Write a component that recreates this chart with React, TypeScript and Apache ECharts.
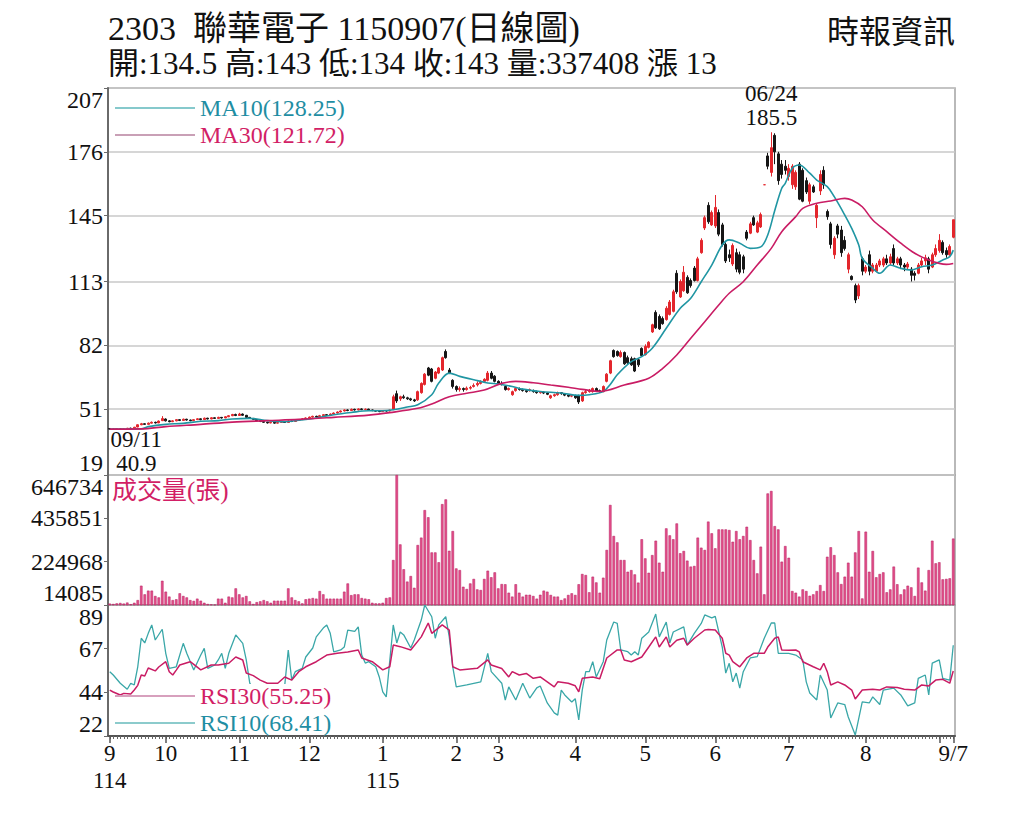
import { useEffect, useRef } from "react";
import * as echarts from "echarts";

const FONT = '"Liberation Serif", "Noto Sans CJK TC", serif';

// 交易日：每月天數
const months = [9, 10, 11, 12, 1, 2, 3, 4, 5, 6, 7, 8, 9];
const years = [2025, 2025, 2025, 2025, 2026, 2026, 2026, 2026, 2026, 2026, 2026, 2026, 2026];
const monthDays = [16, 21, 20, 21, 21, 12, 22, 20, 20, 21, 22, 21, 5];
const monthLabels = ["9\n114", "10", "11", "12", "1\n115", "2", "3", "4", "5", "6", "7", "8", ""];
const lastLabel = "9/7";

const priceTicks = [19, 51, 82, 113, 145, 176, 207];
const volTicks = [14085, 224968, 435851, 646734];
const rsiTicks = [22, 44.33, 66.67, 89];

const maLast: Record<string, string> = { MA10: "128.25", MA30: "121.72" };
const rsiLast: Record<string, string> = { RSI30: "55.25", RSI10: "68.41" };

const peakIdx = 189;
const peakDate = "06/24";
const peakValue = 185.5;
const lowIdx = 3;
const lowDate = "09/11";
const lowValue = 40.9;

// [開, 收, 低, 高]
const ohlc: number[][] = [
  [41.6, 41.3, 41.1, 41.8], [41.3, 41.2, 41.0, 41.5], [41.2, 41.5, 41.0, 41.7], [41.4, 41.1, 40.9, 41.6], [41.1, 41.4, 41.0, 41.6],
  [41.4, 41.7, 41.2, 41.9], [41.7, 41.6, 41.4, 42.0], [41.6, 42.2, 41.5, 42.4], [42.3, 43.4, 42.2, 43.6], [43.4, 43.9, 43.2, 44.3],
  [43.9, 43.6, 43.4, 44.2], [43.6, 44.2, 43.5, 44.5], [44.2, 44.6, 44.0, 45.0], [44.6, 44.3, 44.0, 44.9], [44.3, 45.2, 44.2, 45.5],
  [45.4, 46.4, 45.2, 47.6], [46.2, 45.3, 45.0, 46.5], [45.3, 44.9, 44.6, 45.6], [44.9, 45.3, 44.7, 45.6], [45.3, 45.9, 45.1, 46.1],
  [45.9, 45.5, 45.2, 46.2], [45.5, 46.1, 45.4, 46.4], [46.1, 45.7, 45.4, 46.3], [45.7, 45.4, 45.1, 45.9], [45.4, 45.9, 45.2, 46.1],
  [45.9, 46.3, 45.7, 46.6], [46.3, 45.9, 45.6, 46.5], [45.9, 46.6, 45.8, 46.9], [46.6, 46.2, 46.0, 46.8], [46.2, 46.8, 46.1, 47.1],
  [46.8, 46.5, 46.2, 47.0], [46.5, 47.0, 46.4, 47.3], [47.0, 46.7, 46.4, 47.2], [46.7, 47.3, 46.6, 47.6], [47.3, 47.8, 47.1, 48.1],
  [47.8, 48.4, 47.6, 48.7], [48.4, 47.9, 47.6, 48.8], [47.9, 48.6, 47.8, 49.2], [48.6, 48.0, 47.7, 48.9], [48.0, 47.0, 46.8, 48.2],
  [47.0, 46.5, 46.2, 47.2], [46.5, 46.0, 45.8, 46.7], [46.0, 45.4, 45.2, 46.2], [45.4, 45.0, 44.7, 45.6], [45.0, 44.6, 44.3, 45.2],
  [44.6, 44.3, 44.0, 44.9], [44.3, 44.6, 44.1, 44.9], [44.6, 44.2, 43.9, 44.8], [44.2, 44.5, 44.0, 44.8], [44.5, 44.9, 44.3, 45.1],
  [44.9, 44.5, 44.3, 45.1], [44.5, 45.2, 44.4, 45.5], [45.2, 45.0, 44.7, 45.4], [45.0, 45.5, 44.9, 45.8], [45.5, 45.9, 45.3, 46.2],
  [45.9, 46.3, 45.7, 46.6], [46.3, 46.7, 46.1, 47.0], [46.7, 47.1, 46.5, 47.4], [47.1, 47.5, 46.9, 47.8], [47.5, 47.2, 47.0, 47.8],
  [47.2, 47.8, 47.1, 48.2], [47.8, 48.3, 47.6, 48.6], [48.3, 48.0, 47.8, 48.6], [48.0, 48.6, 47.9, 48.9], [48.6, 49.1, 48.4, 49.4],
  [49.1, 49.6, 48.9, 49.9], [49.6, 50.1, 49.4, 50.4], [50.1, 50.6, 49.9, 50.9], [50.6, 50.3, 50.0, 50.9], [50.3, 50.9, 50.2, 51.3],
  [50.9, 50.6, 50.3, 51.2], [50.6, 51.1, 50.4, 51.4], [51.1, 50.8, 50.5, 51.4], [50.8, 51.0, 50.5, 51.3], [51.0, 50.6, 50.3, 51.2],
  [50.6, 50.3, 50.0, 50.8], [50.3, 50.0, 49.7, 50.5], [50.0, 49.8, 49.5, 50.2], [49.8, 50.2, 49.6, 50.4], [50.2, 50.1, 49.8, 50.5],
  [50.1, 50.5, 49.9, 50.8],
  [51, 57, 50.5, 58], [58.5, 55, 54, 60], [56, 57, 55, 57.5], [57, 56.5, 56, 58], [56.5, 56, 55.5, 57],
  [56, 55.5, 55, 56.5], [55.5, 55, 54.5, 56], [55.5, 59.5, 55, 60], [59, 63.5, 58.5, 64], [63, 68, 62.5, 68.5],
  [71, 67.5, 67, 71.5], [70.5, 64.5, 64, 71], [66, 69, 65.5, 69.5], [68.5, 71, 68, 71.5], [70, 76, 69.5, 76.5],
  [79, 76, 75.5, 80], [70, 68.5, 68, 71], [65, 62, 61, 65.5], [62, 60.5, 59.5, 62.5], [60.5, 61, 59.5, 62],
  [61, 60.5, 59.5, 61.5], [60.5, 61.2, 60, 62], [61.2, 61.5, 60.5, 62.3], [62, 62.5, 61.5, 63.5], [62.8, 63.5, 62, 64.5],
  [63.5, 64, 63, 65], [64.5, 65.5, 64, 66], [65, 68.5, 64.5, 69.5], [68.5, 66, 65.5, 69.5], [67, 64.5, 64, 67.5],
  [64.5, 63.5, 63, 65], [63.5, 63, 62.5, 64.5], [62, 60.5, 60, 62.5], [60.5, 61, 60, 61.5], [58, 59.5, 57.5, 60],
  [60, 61, 59.5, 61.5], [61, 60.5, 60, 61.5], [60.5, 60, 59.5, 61], [60, 59.5, 59, 60.5], [60, 60.5, 59.5, 61],
  [60, 59.5, 59, 60.5], [59.5, 59, 58.5, 60], [59, 59.3, 58.5, 59.8], [59.3, 58.8, 58.3, 59.6], [58.8, 58.2, 57.8, 59.2],
  [56.5, 57.5, 56, 58], [57.5, 58, 57, 58.5], [58, 59, 57.5, 59.5], [59, 58.5, 58, 59.3], [58.5, 57.8, 57.3, 58.8],
  [57.8, 57.3, 56.8, 58.2], [57.3, 57.6, 56.8, 58], [57.6, 56.5, 56, 58], [57.5, 54.5, 53.5, 58], [55, 59, 54.5, 59.5],
  [59, 59.5, 58.5, 60.5], [59.5, 60, 59, 60.8],
  [59.5, 61, 59, 61.5], [61, 59.8, 59.3, 61.5], [60, 59.5, 59, 60.5], [59.5, 62, 59.2, 62.5], [64.5, 68, 64, 68.5],
  [68.5, 74.5, 68, 75], [79.5, 76.5, 76, 80], [79, 77, 76.5, 79.5], [76.5, 78.5, 76, 79.5], [78.5, 73, 72.5, 79],
  [76, 73.5, 73, 77], [75.5, 72.5, 72, 76.5], [75.5, 69.5, 69, 76], [75, 72.5, 71.5, 75.5], [80.5, 77, 76.5, 81],
  [77.5, 81.5, 77, 82.5], [81, 83.5, 80.5, 84], [88.5, 92, 88, 92.5], [98, 90.5, 90, 99], [96, 90, 89.5, 97],
  [95, 92.5, 92, 96], [94.5, 100, 94, 101], [97, 103, 96.5, 104], [98.5, 108, 98, 109], [117, 108, 107, 118.5],
  [105.5, 113, 105, 114], [108.5, 117.5, 108, 120.5], [115, 107.5, 107, 116], [113.5, 111, 110, 114.5], [119.5, 113.5, 113, 120.5],
  [113.5, 124, 113, 125], [127, 133, 126.5, 134], [139, 144, 138, 145], [150, 142, 141, 151.5], [140.5, 146.5, 140, 147.5],
  [140, 149, 139, 155], [146.5, 136, 135, 148], [140.5, 131, 130, 141.5], [131, 123, 122, 132], [126, 124.5, 122.5, 128.5],
  [121.5, 130.5, 120.5, 131.5], [127, 119, 117.5, 129], [126, 117.5, 116.5, 127.5], [125, 119, 117, 126], [137, 134, 133, 138],
  [136.5, 141, 136, 142], [144, 140.5, 140, 145], [137, 141.5, 136.5, 142.5], [139.5, 145.5, 139, 146.5], [160, 160, 160, 160],
  [174, 169, 167.5, 175.5],
  [166, 178, 164, 185.5], [184, 176, 170, 185], [175, 162, 160, 176], [170, 165, 163, 172], [169, 167, 165, 172],
  [164, 168, 162, 170], [160, 169, 158, 170], [159, 166, 157.5, 167], [170, 153, 152.5, 171], [167, 152, 151.5, 168],
  [162, 156.5, 155.5, 163.5], [152, 160, 150.5, 161], [159, 156.5, 156, 160], [144, 150, 139, 151], [157, 165, 155, 167],
  [167, 160, 158, 169], [147, 144.5, 143, 148], [141, 131, 129, 142], [126, 134, 124, 135], [140, 136, 134, 141],
  [138, 127, 125, 140], [133, 129, 128, 135], [119, 126, 117, 127], [115.5, 114, 113.5, 116], [111, 104, 102.5, 112],
  [106, 111, 104.5, 112], [124, 118, 116, 125], [118, 120, 117, 121], [126, 118, 116, 128], [118, 121, 117, 122],
  [118, 121, 117.5, 122], [121, 123, 120, 124], [121, 124, 120, 125], [124, 122, 121, 126], [122, 125, 121, 126.5],
  [129, 122, 121, 131], [122, 124, 121, 125], [124, 121, 119, 125], [121, 120, 118, 122], [120, 121.5, 119, 122.5],
  [119, 116, 113, 120], [117, 116, 113.5, 118], [117, 121, 116.5, 122], [121, 123, 120, 124.5], [123, 124.5, 121, 126],
  [124, 119, 117, 125], [120, 126, 119.5, 127], [126, 129, 125, 131], [128, 133, 127, 136], [132, 127, 126, 133],
  [128, 126, 124.5, 129.5], [126, 130, 125.5, 131], [134.5, 143, 134, 143],
];

const volume = [
  21000, 19000, 22000, 24000, 21000, 26000, 18000, 25000, 38000, 108000,
  66000, 84000, 84000, 58000, 51000, 132000, 79000, 55000, 38000, 42000,
  71000, 58000, 51000, 38000, 34000, 45000, 35000, 25000, 19000, 17000,
  16000, 45000, 45000, 25000, 55000, 51000, 95000, 66000, 51000, 58000,
  32000, 19000, 28000, 32000, 38000, 32000, 25000, 35000, 35000, 35000,
  35000, 95000, 51000, 38000, 32000, 22000, 42000, 45000, 48000, 45000,
  82000, 66000, 45000, 45000, 45000, 45000, 45000, 79000, 119000, 62000,
  66000, 66000, 48000, 45000, 42000, 25000, 22000, 22000, 25000, 48000,
  51000, 233000, 646734, 309000, 188000, 128000, 155000, 98000, 306000, 342000,
  476000, 441000, 270000, 270000, 222000, 505000, 528000, 278000, 374000, 192000,
  184000, 103000, 92000, 119000, 141000, 90000, 87000, 141000, 181000, 149000,
  173000, 95000, 116000, 115000, 74000, 55000, 115000, 74000, 55000, 64000,
  64000, 58000, 45000, 64000, 84000, 79000, 63000, 55000, 55000, 38000,
  46000, 63000, 71000, 63000, 115000, 165000, 160000, 76000, 152000, 124000,
  74000, 147000, 282000, 501000, 350000, 319000, 233000, 233000, 176000, 184000,
  163000, 123000, 334000, 241000, 171000, 257000, 327000, 220000, 176000, 387000,
  353000, 334000, 411000, 266000, 277000, 230000, 201000, 204000, 342000, 293000,
  282000, 420000, 363000, 290000, 382000, 382000, 382000, 379000, 322000, 374000,
  334000, 350000, 395000, 330000, 233000, 168000, 298000, 66000, 557000, 569000,
  398000, 382000, 225000, 301000, 244000, 82000, 74000, 55000, 90000, 82000,
  59000, 66000, 82000, 111000, 82000, 249000, 295000, 257000, 173000, 116000,
  152000, 220000, 152000, 270000, 374000, 46000, 371000, 176000, 277000, 149000,
  165000, 173000, 76000, 90000, 201000, 115000, 66000, 90000, 108000, 100000,
  58000, 196000, 124000, 84000, 184000, 327000, 217000, 222000, 139000, 141000,
  144000, 337408,
];

// [交易日序號, 數值]
const ma10Pts = [
  [0, 41.3], [9, 41.4], [11, 42.5], [16, 43.6], [21, 44.1], [26, 45.1], [31, 45.4], [35, 46.2], [40, 46.5], [45, 45.4],
  [50, 44.9], [54, 45.6], [59, 46.7], [64, 48.3], [69, 49.4], [74, 50.2], [78, 50.2], [81, 50.7], [85, 52], [88, 53.1],
  [92, 58], [94, 63.7], [97, 68.5], [100, 66.9], [104, 65.3], [108, 63.7], [111, 63.2], [115, 62], [118, 60.7], [123, 59.6],
  [129, 58.8], [134, 57.7], [137, 58], [141, 59.5], [143, 63], [145, 67.7], [149, 74.1], [152, 76.5], [155, 80.6], [159, 90.3],
  [163, 100], [166, 104.9], [169, 112.9], [172, 121], [175, 130.7], [177, 133.2], [180, 131.6], [183, 129.1], [186, 129.8], [188, 135.6],
  [190, 147.5], [192, 158.3], [193, 160.7], [195, 168], [197, 169.6], [200, 165.6], [202, 162.3], [205, 159.1], [207, 154.2], [210, 145.3],
  [212, 138.8], [214, 130.7], [215, 124.3], [218, 119.4], [220, 117], [223, 121], [226, 119.4], [229, 118.6], [232, 120.2], [235, 121],
  [238, 123.4], [240, 125.1], [241, 128.25],
];

const ma30Pts = [
  [0, 41.3], [9, 41.4], [16, 42.5], [26, 43.6], [35, 44.7], [45, 45.4], [54, 46], [64, 47], [74, 48.1], [80, 49.3],
  [88, 51.4], [92, 53.5], [97, 57], [102, 58.7], [107, 60.3], [112, 63.5], [116, 64.5], [121, 63.8], [126, 62.7], [131, 61.6],
  [135, 60.6], [140, 59.6], [147, 62.7], [154, 66], [158, 70.8], [162, 77.3], [166, 85.4], [170, 93.5], [174, 101.6], [177, 107.3],
  [181, 112.9], [185, 121], [189, 129.1], [192, 137.2], [196, 144.5], [198, 148.5], [202, 151], [206, 152.1], [210, 153.4], [212, 152.6],
  [215, 149.3], [218, 142.9], [222, 137.2], [226, 131.6], [230, 126.7], [234, 123.4], [237, 121.8], [239, 121.3], [241, 121.72],
];

const rsi10Pts = [
  [0, 54.9], [1, 53.2], [3, 49], [5, 45.9], [6, 49], [7, 48.1], [8, 57.4], [9, 72], [10, 69.6], [11, 74.5],
  [12, 78.8], [13, 71.1], [15, 76.6], [16, 64.3], [17, 56.6], [19, 57.4], [21, 69.4], [22, 64.3], [24, 55.8], [26, 63.4],
  [27, 66.8], [28, 56.6], [30, 58.3], [31, 60.9], [32, 64.3], [33, 56.6], [34, 64.3], [36, 73.7], [38, 69.4], [39, 60.9],
  [40, 49], [42, 44], [45, 46], [48, 45], [50, 48], [51, 66], [52, 50.6], [53, 54.9], [55, 56.6], [56, 62.4],
  [58, 67], [59, 72.7], [61, 77.2], [62, 78.8], [63, 74.5], [64, 65], [66, 66], [67, 67.5], [68, 76.2], [70, 75.5],
  [71, 77.8], [72, 63.4], [73, 59.3], [74, 60], [76, 57.4], [77, 52.2], [78, 44.6], [79, 42], [81, 78.8], [82, 69.6],
  [83, 75.2], [84, 73.7], [86, 67], [87, 71.1], [89, 81.3], [90, 89], [92, 83], [93, 72], [94, 78.8], [96, 83],
  [97, 72.7], [98, 57.4], [99, 47.1], [102, 48.1], [106, 49.7], [108, 64.3], [109, 54.9], [112, 49], [113, 40.4], [114, 47.1],
  [116, 40.4], [118, 49], [120, 41.4], [122, 46.6], [123, 47.6], [125, 38.9], [127, 33.8], [128, 32.7], [129, 45.5], [130, 43],
  [132, 39.4], [133, 41.1], [134, 30.2], [135, 45.5], [136, 54.9], [137, 54.9], [138, 60], [139, 52.2], [141, 60], [142, 71.1],
  [144, 80.3], [145, 79.6], [146, 66], [148, 65.1], [149, 63.4], [150, 65.1], [151, 63.4], [152, 72], [154, 75.2], [156, 84.4],
  [157, 72.7], [159, 80.3], [160, 69.6], [161, 75.2], [164, 77.8], [165, 68.5], [167, 74.5], [169, 79.6], [170, 83.9], [172, 82.4],
  [173, 83.2], [175, 67.5], [176, 54.2], [177, 59.2], [178, 49.7], [179, 54.2], [180, 46.5], [181, 54.9], [183, 61.9], [185, 62.6],
  [187, 72], [189, 79.8], [190, 79.8], [191, 64.3], [194, 64.3], [196, 63.4], [198, 60.9], [199, 49.7], [200, 44], [202, 40.4],
  [203, 53.2], [205, 45.5], [206, 31.2], [208, 38.9], [210, 38.1], [211, 31.7], [213, 22.5], [215, 39.4], [217, 38.9], [218, 42],
  [220, 38.1], [221, 45.5], [224, 46.5], [226, 43], [228, 37.4], [230, 38.9], [231, 51.5], [233, 53.2], [234, 43], [235, 59.3],
  [237, 60.9], [238, 51.5], [240, 50.6], [241, 68.41],
];

const rsi30Pts = [
  [0, 45.5], [1, 44.5], [3, 43], [4, 43.8], [6, 43.5], [7, 45.5], [8, 47.9], [9, 53.2], [10, 52.7], [11, 56.8],
  [13, 55.3], [14, 57.3], [16, 60], [17, 54.9], [18, 53.2], [19, 55.7], [20, 58.3], [23, 60], [26, 55.8], [29, 58.3],
  [31, 58.3], [34, 59.2], [36, 62.4], [38, 60.9], [39, 54.2], [41, 52.9], [43, 50.6], [45, 49], [48, 49], [50, 52.2],
  [52, 50.6], [54, 54.9], [56, 57.4], [59, 60], [62, 63.4], [65, 64.3], [68, 65], [71, 66], [72, 61.9], [75, 60],
  [78, 55.8], [80, 57.4], [81, 68.5], [83, 67.7], [86, 66], [89, 72.7], [91, 79.8], [92, 74.5], [95, 78.8], [97, 76.2],
  [98, 57.4], [100, 55.8], [105, 56.6], [108, 60.9], [109, 58.3], [112, 56.5], [114, 52.2], [115, 54.9], [117, 53.2], [119, 54],
  [121, 51.5], [123, 52.2], [125, 49.7], [127, 47.1], [128, 49.7], [131, 49], [133, 47.7], [134, 44.6], [135, 51.5], [138, 52.2],
  [140, 51.3], [142, 61.9], [145, 66], [146, 66], [147, 60.9], [149, 60], [152, 62.4], [154, 67.5], [156, 72.7], [157, 67.5],
  [159, 72.7], [160, 67.5], [162, 71], [164, 72], [165, 68.5], [167, 72], [170, 76.2], [171, 76.5], [173, 76.2], [175, 72],
  [176, 64.3], [177, 63.4], [178, 60], [180, 57.4], [182, 61.9], [184, 64.3], [187, 64.3], [188, 67.5], [190, 72], [191, 72.7],
  [192, 66], [194, 65.8], [196, 66], [197, 65], [198, 60], [201, 57.4], [203, 55.8], [204, 59.2], [205, 54.9], [206, 48.1],
  [208, 49.7], [210, 48.1], [212, 45.5], [213, 40.9], [215, 45.5], [218, 45.9], [220, 45.5], [222, 47.1], [225, 46.8], [227, 45.9],
  [230, 45.5], [232, 48.1], [234, 47.6], [236, 50.6], [238, 51], [240, 49], [241, 55.25],
];

const categories: string[] = [];
const monthStarts: number[] = [];
months.forEach((m, i) => {
  monthStarts.push(categories.length);
  for (let d = 1; d <= monthDays[i]; d++) categories.push(`${years[i]}/${m}-${d}`);
});
const lastIdx = categories.length - 1;

const labelAt = new Map<number, string>();
monthStarts.forEach((s, i) => {
  if (monthLabels[i]) labelAt.set(s, monthLabels[i]);
});
labelAt.set(lastIdx, lastLabel);
const tickAt = new Set<number>([...monthStarts, lastIdx]);

const toLine = (pts: number[][]) => pts.map(([i, v]) => [categories[i], v]);

const red = "#e3262c";
const black = "#161616";
const teal = "#2096a3";
const magenta = "#c91c64";
const labelStyle = { fontSize: 24, color: "#111", fontFamily: FONT };

export default function App() {
  const chartRef = useRef<HTMLDivElement>(null);

  useEffect(() => {
    if (!chartRef.current) return;
    const chart = echarts.init(chartRef.current, undefined, { renderer: "svg" });

    const gridBase = { left: 108, width: 847, show: true, borderColor: "#a3a3a3", borderWidth: 1.5 };
    const hiddenX = (gridIndex: number) => ({
      type: "category" as const,
      gridIndex,
      data: categories,
      axisLine: { show: false },
      axisTick: { show: false },
      axisLabel: { show: false },
    });
    const yBase = {
      axisLine: { show: true, lineStyle: { color: "#6a6a6a", width: 2 } },
      axisTick: { show: true, length: 4, lineStyle: { color: "#6a6a6a" } },
    };
    const legendBase = {
      orient: "vertical" as const,
      left: 110,
      icon: "rect",
      itemWidth: 80,
      itemHeight: 2,
      selectedMode: false,
    };

    const option: echarts.EChartsOption = {
      animation: false,
      backgroundColor: "#fff",
      grid: [
        { ...gridBase, top: 88, height: 387 },
        { ...gridBase, top: 475, height: 130 },
        { ...gridBase, top: 605, height: 131 },
      ],
      xAxis: [
        hiddenX(0),
        hiddenX(1),
        {
          type: "category",
          gridIndex: 2,
          data: categories,
          position: "bottom",
          axisLine: { show: true, lineStyle: { color: "#555", width: 2 } },
          axisTick: { show: true, interval: 0, length: 3, alignWithLabel: true, lineStyle: { color: "#666" } },
          axisLabel: {
            ...labelStyle,
            fontSize: 23,
            lineHeight: 27,
            margin: 4,
            interval: (i: number) => labelAt.has(i),
            formatter: (_v: string, i: number) => labelAt.get(i) ?? "",
          },
        },
        {
          type: "category",
          gridIndex: 2,
          data: categories,
          position: "bottom",
          axisLine: { show: false },
          axisTick: { show: true, interval: (i: number) => tickAt.has(i), length: 7, alignWithLabel: true, lineStyle: { color: "#555", width: 1.5 } },
          axisLabel: { show: false },
        },
      ],
      yAxis: [
        {
          type: "value",
          gridIndex: 0,
          min: priceTicks[0],
          max: priceTicks[priceTicks.length - 1],
          ...yBase,
          axisTick: { ...yBase.axisTick, customValues: priceTicks },
          axisLabel: {
            ...labelStyle,
            margin: 5,
            customValues: priceTicks,
            formatter: (v: number) => String(v),
            verticalAlignMinLabel: "bottom",
            verticalAlignMaxLabel: "top",
          },
          splitLine: { show: true, lineStyle: { color: "#c9c9c9", width: 1.5 } },
        } as any,
        {
          type: "value",
          gridIndex: 1,
          min: volTicks[0],
          max: volTicks[volTicks.length - 1],
          ...yBase,
          axisTick: { ...yBase.axisTick, customValues: volTicks },
          axisLabel: {
            ...labelStyle,
            margin: 5,
            customValues: volTicks,
            formatter: (v: number) => String(v),
            verticalAlignMinLabel: "bottom",
            verticalAlignMaxLabel: "top",
          },
          splitLine: { show: false },
        } as any,
        {
          type: "value",
          gridIndex: 2,
          min: rsiTicks[0],
          max: rsiTicks[rsiTicks.length - 1],
          ...yBase,
          axisTick: { ...yBase.axisTick, customValues: rsiTicks },
          axisLabel: {
            ...labelStyle,
            margin: 5,
            customValues: rsiTicks,
            formatter: (v: number) => String(Math.round(v)),
            verticalAlignMinLabel: "bottom",
            verticalAlignMaxLabel: "top",
          },
          splitLine: { show: false },
        } as any,
      ],
      legend: [
        {
          ...legendBase,
          top: 91,
          itemGap: 3,
          data: [
            { name: "MA10", textStyle: { color: "#1f8ea3" }, itemStyle: { color: "#86c9cc" } },
            { name: "MA30", textStyle: { color: "#d21f66" }, itemStyle: { color: "#c9a0b6" } },
          ],
          formatter: (n: string) => `${n}(${maLast[n]})`,
          textStyle: { fontSize: 24, fontFamily: FONT },
        },
        {
          ...legendBase,
          top: 679,
          itemGap: 3,
          data: [
            { name: "RSI30", textStyle: { color: "#d21f66" }, itemStyle: { color: "#d7a0bd" } },
            { name: "RSI10", textStyle: { color: "#1f8ea3" }, itemStyle: { color: "#8ccbcc" } },
          ],
          formatter: (n: string) => `${n}(${rsiLast[n]})`,
          textStyle: { fontSize: 24, fontFamily: FONT, backgroundColor: "#fff" },
        },
      ],
      graphic: [
        {
          type: "text",
          left: 108,
          top: 11,
          style: { text: "2303  聯華電子 1150907(日線圖)", fontSize: 34, fontFamily: FONT, fill: "#111" },
        },
        {
          type: "text",
          left: 108,
          top: 48,
          style: { text: "開:134.5 高:143 低:134 收:143 量:337408 漲 13", fontSize: 31, fontFamily: FONT, fill: "#111" },
        },
        {
          type: "text",
          right: 69,
          top: 16,
          style: { text: "時報資訊", fontSize: 32, fontFamily: FONT, fill: "#111" },
        },
        {
          type: "text",
          left: 112,
          top: 478,
          z: 10,
          style: { text: "成交量(張)", fontSize: 25, fontFamily: FONT, fill: "#d21f66" },
        },
      ],
      series: [
        {
          name: "K線",
          type: "candlestick",
          xAxisIndex: 0,
          yAxisIndex: 0,
          data: ohlc,
          barWidth: 2.8,
          itemStyle: { color: red, color0: black, borderColor: red, borderColor0: black, borderWidth: 1 },
          markPoint: {
            symbol: "circle",
            symbolSize: 0,
            label: { ...labelStyle, fontSize: 23, lineHeight: 24 },
            data: [
              {
                coord: [categories[peakIdx], peakValue],
                label: { position: "top", distance: 3, formatter: `${peakDate}\n${peakValue}` },
              },
              {
                coord: [categories[lowIdx], lowValue],
                label: { position: "bottom", distance: 0, offset: [16, -2], formatter: `${lowDate}\n${lowValue}` },
              },
            ],
          },
        },
        {
          name: "MA10",
          type: "line",
          xAxisIndex: 0,
          yAxisIndex: 0,
          data: toLine(ma10Pts),
          smooth: 0.35,
          symbol: "none",
          lineStyle: { width: 1.6, color: teal },
          itemStyle: { color: teal },
        },
        {
          name: "MA30",
          type: "line",
          xAxisIndex: 0,
          yAxisIndex: 0,
          data: toLine(ma30Pts),
          smooth: 0.35,
          symbol: "none",
          lineStyle: { width: 1.6, color: magenta },
          itemStyle: { color: magenta },
        },
        {
          name: "成交量",
          type: "bar",
          xAxisIndex: 1,
          yAxisIndex: 1,
          data: volume,
          barWidth: 2.5,
          itemStyle: { color: "#e4508a", borderColor: "#b3145a", borderWidth: 0.5 },
        },
        {
          name: "RSI10",
          type: "line",
          xAxisIndex: 2,
          yAxisIndex: 2,
          data: toLine(rsi10Pts),
          symbol: "none",
          lineStyle: { width: 1.3, color: "#3aa7a8" },
          itemStyle: { color: "#3aa7a8" },
        },
        {
          name: "RSI30",
          type: "line",
          xAxisIndex: 2,
          yAxisIndex: 2,
          data: toLine(rsi30Pts),
          symbol: "none",
          lineStyle: { width: 1.5, color: magenta },
          itemStyle: { color: magenta },
        },
      ],
    };

    chart.setOption(option);
    return () => chart.dispose();
  }, []);

  return (
    <div
      ref={chartRef}
      style={{ position: "fixed", left: 0, top: 0, width: 1024, height: 819, background: "#fff" }}
    />
  );
}
